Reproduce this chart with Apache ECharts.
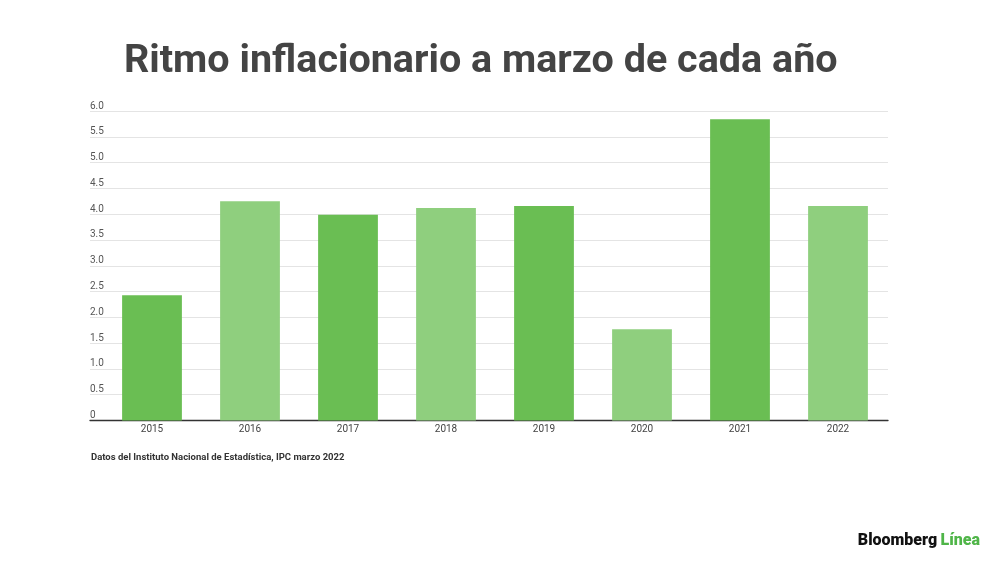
<!DOCTYPE html>
<html>
<head>
<meta charset="utf-8">
<script src="https://cdn.jsdelivr.net/npm/echarts@6/dist/echarts.min.js"></script>
<style>
    html, body {margin: 0; padding: 0; background: #fff;}
    #chart {width: 1000px; height: 562px;}
</style>
</head>
<body>
<div id="chart"></div>
<script>
    // datos
    var years = ['2015', '2016', '2017', '2018', '2019', '2020', '2021', '2022'];
    var values = [2.43, 4.25, 3.99, 4.12, 4.16, 1.77, 5.84, 4.16];
    var barColors = ['#6abe53', '#8fcf7e', '#6abe53', '#8fcf7e', '#6abe53', '#8fcf7e', '#6abe53', '#8fcf7e'];

    var chart = echarts.init(document.getElementById('chart'));

    var barData = values.map(function (v, i) {
        return {value: v, itemStyle: {color: barColors[i]}};
    });

    var option = {
        backgroundColor: '#fff',
        animation: false,
        textStyle: {fontFamily: 'Roboto'},
        title: [
            {
                text: 'Ritmo inflacionario a marzo de cada año',
                left: 124, top: 42, padding: 0,
                textStyle: {fontSize: 39.5, fontWeight: 'bold', color: '#444', fontFamily: 'Roboto'}
            },
            {
                text: 'Datos del Instituto Nacional de Estadística, IPC marzo 2022',
                left: 91, top: 453, padding: 0,
                textStyle: {fontSize: 9.5, fontWeight: 'bold', color: '#333', fontFamily: 'Roboto'}
            }
        ],
        graphic: [{
            type: 'text',
            right: 20, top: 533,
            style: {
                rich: {
                    b: {fontSize: 16, fontWeight: 900, fill: '#111', fontFamily: 'Roboto'},
                    l: {fontSize: 16, fontWeight: 900, fill: '#4fb548', fontFamily: 'Roboto'}
                },
                text: '{b|Bloomberg} {l|Línea}'
            }
        }],
        grid: [
            // barras
            {left: 103, right: 113, top: 111, bottom: 141.5},
            // rejilla y ejes
            {left: 90, right: 112, top: 111, bottom: 141.5}
        ],
        xAxis: [
            {
                type: 'category', gridIndex: 0, data: years,
                axisLine: {show: false}, axisTick: {show: false},
                axisLabel: {color: '#444', fontSize: 10, margin: 4}
            },
            {
                type: 'value', gridIndex: 1, min: 0, max: 1,
                axisLine: {show: true, onZero: false, lineStyle: {color: '#333', width: 1.3}},
                axisTick: {show: false}, axisLabel: {show: false}, splitLine: {show: false}
            }
        ],
        yAxis: [
            {
                type: 'value', gridIndex: 0, min: 0, max: 6, interval: 0.5,
                axisLine: {show: false}, axisTick: {show: false},
                axisLabel: {show: false}, splitLine: {show: false}
            },
            {
                type: 'value', gridIndex: 1, min: 0, max: 6, interval: 0.5,
                axisLine: {show: false}, axisTick: {show: false},
                splitLine: {lineStyle: {color: '#e4e4e4', width: 1}},
                axisLabel: {
                    inside: true, margin: 0, verticalAlign: 'bottom', align: 'left',
                    padding: [0, 0, 0, 0], color: '#555', fontSize: 10,
                    formatter: function (v) { return v === 0 ? '0' : v.toFixed(1); }
                }
            }
        ],
        series: [{
            type: 'bar', xAxisIndex: 0, yAxisIndex: 0,
            barCategoryGap: '39%',
            data: barData
        }]
    };
    chart.setOption(option);
</script>
</body>
</html>
